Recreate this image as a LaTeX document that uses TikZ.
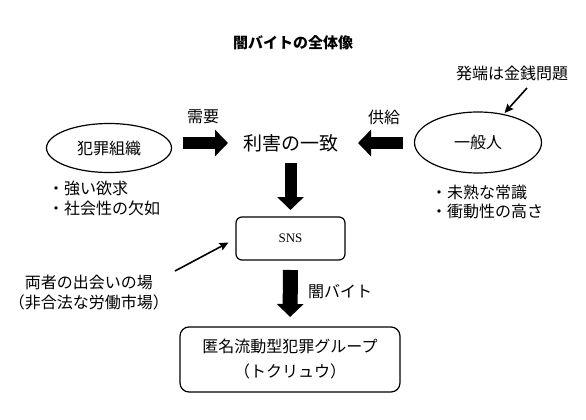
\documentclass[tikz,border=0pt]{standalone}
\usepackage{fontspec}
\setmainfont{Noto Sans CJK JP}
\newfontfamily\latinserif{Liberation Serif}
\usetikzlibrary{shapes.geometric,arrows.meta}
\begin{document}
\begin{tikzpicture}[x=1pt,y=-1pt,
  every node/.style={inner sep=0pt, outer sep=0pt, font=\fontsize{16}{19.5}\selectfont},
  oval/.style={draw, ellipse, line width=1.2pt},
  rbox/.style={draw, rounded corners=6pt, line width=1.2pt},
  fat/.style={line width=12pt, -{Triangle[length=13pt,width=26pt]}},
  thinarrow/.style={line width=1.6pt, -{Stealth[length=9pt,width=8pt,inset=1.5pt]}},
]
\useasboundingbox (0,0) rectangle (586,420);
\node[font=\fontsize{15}{17}\selectfont\bfseries] (title) at (293,43) {闇バイトの全体像};
\node[oval, minimum width=125pt, minimum height=49pt] (org) at (109,148) {犯罪組織};
\node[oval, minimum width=127pt, minimum height=61pt] (ppl) at (478,142.5) {一般人};
\node[font=\fontsize{19}{22}\selectfont] (match) at (290.5,143) {利害の一致};
\node (dem) at (203,117) {需要};
\node (sup) at (384,117) {供給};
\node (trig) at (512,73) {発端は金銭問題};
\node[align=left, anchor=west] (orgtr) at (48,198.5) {・強い欲求\\・社会性の欠如};
\node[align=left, anchor=west] (ppltr) at (431,202) {・未熟な常識\\・衝動性の高さ};
\node[rbox, minimum width=109pt, minimum height=43pt, font=\latinserif\fontsize{13}{15}\selectfont] (sns) at (290.5,238.5) {SNS};
\node[rbox, rounded corners=9pt, minimum width=220pt, minimum height=65pt, align=center, font=\fontsize{16}{25}\selectfont] (grp) at (290,359.5) {匿名流動型犯罪グループ\\（トクリュウ）};
\node[align=center] (meet) at (89,292.5) {両者の出会いの場\\（非合法な労働市場）};
\node (yami) at (340,292) {闇バイト};
\draw[fat, shorten <=11.5pt, shorten >=15pt] (org.east |- match.west) -- (match.west);
\draw[fat, shorten <=11.5pt, shorten >=20pt] (ppl.west |- match.east) -- (match.east);
\draw[fat, shorten <=11pt, shorten >=7pt] (match.south) -- (sns.north);
\draw[fat, line width=15pt, shorten <=10pt, shorten >=10pt] (sns.south) -- (grp.north);
\coordinate (a1) at (527,88);
\coordinate (a2) at (175,271);
\draw[thinarrow, shorten >=2pt] (a1) -- (ppl);
\draw[thinarrow, shorten >=8.5pt] (a2) -- (sns.west);
\end{tikzpicture}
\end{document}
